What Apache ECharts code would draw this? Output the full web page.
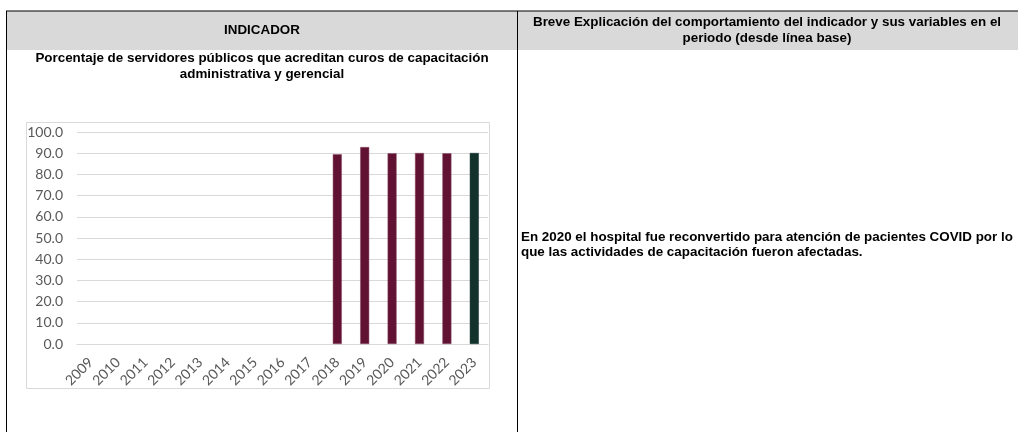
<!DOCTYPE html>
<html>
<head>
<meta charset="utf-8">
<script src="https://cdn.jsdelivr.net/npm/echarts@6/dist/echarts.min.js"></script>
<style>
  html, body { margin: 0; padding: 0; background: #fff; }
  #main { width: 1018px; height: 432px; }
</style>
</head>
<body>
<div id="main"></div>
<script>
// datos del indicador
var years = ['2009','2010','2011','2012','2013','2014','2015','2016','2017','2018','2019','2020','2021','2022','2023'];
var values = [null,null,null,null,null,null,null,null,null,89.5,92.9,90.0,90.1,90.0,90.1];
var barColors = ['#611232','#611232','#611232','#611232','#611232','#611232','#611232','#611232','#611232','#611232','#611232','#611232','#611232','#611232','#13322B'];

var headerLeft = 'INDICADOR';
var headerRight = ['Breve Explicación del comportamiento del indicador y sus variables en el', 'periodo (desde línea base)'];
var chartTitle = ['Porcentaje de servidores públicos que acreditan curos de capacitación', 'administrativa y gerencial'];
var note = ['En 2020 el hospital fue reconvertido para atención de pacientes COVID por lo', 'que las actividades de capacitación fueron afectadas.'];

var chart = echarts.init(document.getElementById('main'), null, { renderer: 'canvas' });

var boldText = { fontFamily: 'Liberation Sans, Arial', fontWeight: 'bold', fontSize: 13.4, fill: '#000' };

function txt(x, y, s, align) {
  return {
    type: 'text', x: x, y: y, z: 10,
    style: Object.assign({ text: s, textAlign: align || 'center', textVerticalAlign: 'middle' }, boldText)
  };
}

var option = {
  animation: false,
  backgroundColor: '#fff',
  graphic: [
    // cabecera gris
    { type: 'rect', shape: { x: 6, y: 11, width: 1012, height: 39 }, style: { fill: '#d9d9d9' }, z: 1 },
    // líneas de la tabla
    { type: 'line', shape: { x1: 6, y1: 11, x2: 1018, y2: 11 }, style: { stroke: '#000', lineWidth: 1 }, z: 5 },
    { type: 'line', shape: { x1: 6.5, y1: 11, x2: 6.5, y2: 432 }, style: { stroke: '#000', lineWidth: 1 }, z: 5 },
    { type: 'line', shape: { x1: 517.5, y1: 11, x2: 517.5, y2: 432 }, style: { stroke: '#000', lineWidth: 1 }, z: 5 },
    // marco del gráfico
    { type: 'rect', shape: { x: 26.5, y: 122.5, width: 463, height: 266 }, style: { fill: 'none', stroke: '#d9d9d9', lineWidth: 1 }, z: 2 },
    txt(262, 30, headerLeft),
    txt(767, 22, headerRight[0]),
    txt(767, 38, headerRight[1]),
    txt(262, 58, chartTitle[0]),
    txt(262, 74, chartTitle[1]),
    txt(521, 237, note[0], 'left'),
    txt(521, 252, note[1], 'left')
  ],
  grid: { left: 77, right: 530, top: 132, bottom: 88, containLabel: false },
  xAxis: {
    type: 'category',
    data: years,
    axisLine: { lineStyle: { color: '#d9d9d9' } },
    axisTick: { show: false },
    axisLabel: { rotate: 45, color: '#595959', fontFamily: 'Lato', fontSize: 14, interval: 0, margin: 16 }
  },
  yAxis: {
    type: 'value', min: 0, max: 100, interval: 10,
    axisLine: { show: false },
    axisTick: { show: false },
    splitLine: { lineStyle: { color: '#d9d9d9' } },
    axisLabel: {
      color: '#595959', fontFamily: 'Lato', fontSize: 14, margin: 14,
      formatter: function (v) { return v.toFixed(1); }
    }
  },
  series: [{
    type: 'bar',
    barWidth: 9,
    data: values.map(function (v, i) {
      return { value: v, itemStyle: { color: barColors[i], borderColor: i === 14 ? '#13322B' : '#8a4a64', borderWidth: 0.5 } };
    })
  }]
};

chart.setOption(option);
</script>
</body>
</html>
